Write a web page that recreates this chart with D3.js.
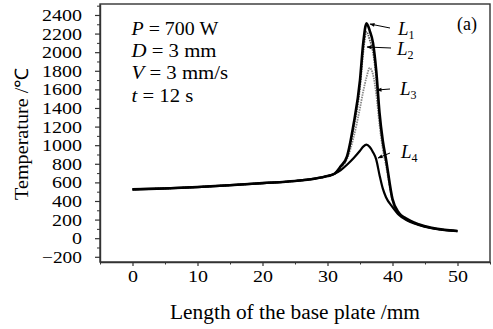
<!DOCTYPE html>
<html><head><meta charset="utf-8">
<script src="https://cdn.jsdelivr.net/npm/d3@7"></script>
<style>
body{margin:0;background:#fff;}
svg{display:block;font-family:"Liberation Serif","Times New Roman",serif;}
</style></head>
<body><svg id="c" width="493" height="329"></svg>
<script>
const positions = [0,5,10,15,20,25,28,30,31,32,33,34,35,35.5,36,36.5,37,37.5,38,38.5,39,40,41,42,44,46,48,50];
const baseline = [525,535,550,570,592,615,640,668,690];
const L1 = baseline.concat([770,880,1220,1700,2100,2310,2230,2100,1800,1350,1050,850,420,270,215,150,112,90,78]);
const L2 = baseline.concat([765,870,1180,1620,2000,2220,2130,2000,1720,1300,1010,820,410,265,210,148,110,89,77]);
const L3 = baseline.concat([755,850,1080,1400,1580,1730,1830,1760,1550,1220,960,780,400,262,208,146,109,88,77]);
const L4 = baseline.concat([730,790,860,940,985,1005,980,925,845,680,535,440,335,250,200,142,107,87,76]);
const seriesNames = ["1","2","3","4"];
const xTicks = [0,10,20,30,40,50];
const yTicks = [-200,0,200,400,600,800,1000,1200,1400,1600,1800,2000,2200,2400];
const params = [["P"," = 700 W"],["D"," = 3 mm"],["V"," = 3 mm/s"],["t"," = 12 s"]];

(function(){
const svg = d3.select("#c");
const pl=100, pr=490, pt=4, pb=262;
const x = d3.scaleLinear().domain([-5,55]).range([pl,pr]);
const y = d3.scaleLinear().domain([-256,2518]).range([pb,pt]);

svg.append("rect").attr("x",pl).attr("y",pt).attr("width",pr-pl).attr("height",pb-pt)
  .attr("fill","none").attr("stroke","#333").attr("stroke-width",1.4);

const xAxis = d3.axisBottom(x).tickValues(xTicks).tickSize(4).tickSizeOuter(0).tickPadding(4);
const gx = svg.append("g").attr("transform",`translate(0,${pb})`).call(xAxis);
gx.select(".domain").attr("stroke","#333").attr("stroke-width",1.4);
gx.selectAll(".tick line").attr("stroke","#333").attr("stroke-width",1.2);
gx.selectAll(".tick text").attr("font-size",17.5).attr("fill","#000").attr("font-family","Liberation Serif")
  .attr("textLength",d=>String(d).length*10).attr("lengthAdjust","spacingAndGlyphs");
const gxm = svg.append("g").attr("transform",`translate(0,${pb})`)
  .call(d3.axisBottom(x).tickValues(d3.range(-5,56,5).filter(v=>v%10!==0)).tickSize(2.5).tickFormat(""));
gxm.select(".domain").remove();
gxm.selectAll(".tick line").attr("stroke","#333");

const fmtY = d=> d<0 ? "\u2212"+Math.abs(d) : String(d);
const yAxis = d3.axisLeft(y).tickValues(yTicks).tickSize(5).tickSizeOuter(0).tickPadding(13).tickFormat(fmtY);
const gy = svg.append("g").attr("transform",`translate(${pl},0)`).call(yAxis);
gy.select(".domain").attr("stroke","#333").attr("stroke-width",1.4);
gy.selectAll(".tick line").attr("stroke","#333").attr("stroke-width",1.2);
gy.selectAll(".tick text").attr("font-size",17.5).attr("fill","#000").attr("font-family","Liberation Serif")
  .attr("textLength",d=>fmtY(d).length*10).attr("lengthAdjust","spacingAndGlyphs");
const gym = svg.append("g").attr("transform",`translate(${pl},0)`)
  .call(d3.axisLeft(y).tickValues(d3.range(-300,2501,200).filter(v=>y(v)>=pt && y(v)<=pb)).tickSize(3).tickFormat(""));
gym.select(".domain").remove();
gym.selectAll(".tick line").attr("stroke","#333");

svg.append("text").attr("x",(pl+pr)/2).attr("y",319).attr("text-anchor","middle")
  .attr("font-size",20).attr("textLength",250).attr("lengthAdjust","spacingAndGlyphs")
  .text("Length of the base plate /mm");
svg.append("text").attr("transform","translate(28,134) rotate(-90)").attr("text-anchor","middle")
  .attr("font-size",18.5).attr("textLength",132).attr("lengthAdjust","spacingAndGlyphs")
  .text("Temperature /\u2103");

const line = d3.line().x((d,i)=>x(positions[i])).y(d=>y(d)).curve(d3.curveMonotoneX);
const styles = [
  {data:L3, stroke:"#888", w:1.8, dash:"1.5,1"},
  {data:L2, stroke:"#555", w:1.8, dash:"1.5,1"},
  {data:L4, stroke:"#000", w:2.2, dash:null},
  {data:L1, stroke:"#000", w:2.6, dash:null}
];
svg.append("g").selectAll("path").data(styles).join("path")
  .attr("d",s=>line(s.data)).attr("fill","none").attr("stroke",s=>s.stroke)
  .attr("stroke-width",s=>s.w).attr("stroke-dasharray",s=>s.dash).attr("stroke-linejoin","round");

svg.append("defs").append("marker").attr("id","ah").attr("viewBox","0 0 10 10").attr("refX",9).attr("refY",5)
  .attr("markerWidth",6).attr("markerHeight",5).attr("orient","auto")
  .append("path").attr("d","M0,1 L10,5 L0,9 z").attr("fill","#000");

const labelPos = [
  {lx:398, ly:35, x1:390, y1:28, x2:370, y2:24},
  {lx:397, ly:55, x1:391, y1:48, x2:367, y2:47},
  {lx:400, ly:95, x1:390, y1:89, x2:377, y2:90},
  {lx:401, ly:158, x1:390, y1:153, x2:378, y2:158}
];
labelPos.forEach((p,i)=>{
  svg.append("line").attr("x1",p.x1).attr("y1",p.y1).attr("x2",p.x2).attr("y2",p.y2)
    .attr("stroke","#000").attr("stroke-width",1).attr("marker-end","url(#ah)");
  const t = svg.append("text").attr("x",p.lx).attr("y",p.ly).attr("font-size",19);
  t.append("tspan").attr("font-style","italic").text("L");
  t.append("tspan").attr("font-size",12).attr("dy",4).text(seriesNames[i]);
});

svg.append("text").attr("x",457).attr("y",30).attr("font-size",18).text("(a)");

const paramWidths = [86.7,85,96.7,61.7];
params.forEach((p,i)=>{
  const t = svg.append("text").attr("x",131.5).attr("y",35+i*22.2).attr("font-size",18)
    .attr("textLength",paramWidths[i]).attr("lengthAdjust","spacingAndGlyphs");
  t.append("tspan").attr("font-style","italic").text(p[0]);
  t.append("tspan").text(p[1]);
});
})();
</script></body></html>
